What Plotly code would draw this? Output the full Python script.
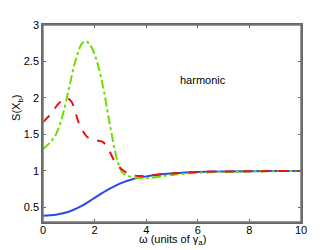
import plotly.graph_objects as go

blue_x = [0, 0.5, 1, 1.5, 2, 2.5, 3, 3.5, 4, 4.5, 5, 6, 7, 8, 9, 10]
blue_y = [0.385, 0.40, 0.44, 0.52, 0.63, 0.74, 0.83, 0.89, 0.925, 0.95, 0.965, 0.985, 0.992, 0.996, 0.998, 1.0]

red_x = [0, 0.3, 0.6, 0.9, 1.1, 1.4, 1.7, 2.0, 2.3, 2.5, 2.8, 3.1, 3.4, 3.7, 4, 5, 6, 8, 10]
red_y = [1.67, 1.78, 1.92, 2.0, 1.95, 1.65, 1.47, 1.42, 1.40, 1.32, 1.12, 1.01, 0.95, 0.93, 0.935, 0.965, 0.985, 0.995, 1.0]

green_x = [0, 0.25, 0.5, 0.75, 1.0, 1.25, 1.5, 1.65, 1.8, 2.0, 2.3, 2.6, 2.9, 3.1, 3.4, 3.7, 4.0, 4.5, 5, 6, 8, 10]
green_y = [1.30, 1.38, 1.50, 1.75, 2.12, 2.50, 2.74, 2.78, 2.74, 2.60, 2.20, 1.62, 1.12, 0.97, 0.92, 0.905, 0.90, 0.92, 0.945, 0.975, 0.993, 1.0]

x_ticks = [0, 2, 4, 6, 8, 10]
y_ticks = [0.5, 1, 1.5, 2, 2.5, 3]
y_tick_labels = ["0.5", "1", "1.5", "2", "2.5", "3"]

font = "Liberation Sans, Arial, sans-serif"

fig = go.Figure()
fig.add_trace(go.Scatter(x=blue_x, y=blue_y, mode="lines", line=dict(color="#2a48f0", width=2, shape="spline")))
fig.add_trace(go.Scatter(x=green_x, y=green_y, mode="lines", line=dict(color="#70dc00", width=2, dash="dashdot", shape="spline")))
fig.add_trace(go.Scatter(x=red_x, y=red_y, mode="lines", line=dict(color="#ee1010", width=2, dash="dash", shape="spline")))

axis_common = dict(showgrid=False, zeroline=False, showline=True, linecolor="#666", linewidth=1.5,
                   mirror="ticks", ticks="inside", ticklen=3, tickcolor="#666", tickwidth=1,
                   tickfont=dict(family=font, size=11, color="black"))
fig.update_xaxes(range=[0, 10], tickvals=x_ticks, ticklabelstandoff=-3, **axis_common)
fig.update_yaxes(range=[0.3, 3], tickvals=y_ticks, ticktext=y_tick_labels, **axis_common)

# plot frame
fig.add_shape(type="rect", xref="paper", yref="paper", x0=0, y0=0, x1=1, y1=1,
              line=dict(color="#777", width=1.5), layer="above")

fig.add_annotation(x=6.2, y=2.24, xref="x", yref="y", text="harmonic", showarrow=False,
                   font=dict(family=font, size=11, color="black"))
fig.add_annotation(x=0.5, y=-0.045, xref="paper", yref="paper", yanchor="top",
                   text="ω (units of γ<sub>a</sub>)",
                   showarrow=False, font=dict(family=font, size=11, color="black"))
fig.add_annotation(x=-0.135, y=0.58, xref="paper", yref="paper", text="S(X<sub>b</sub>)", textangle=-90,
                   showarrow=False, font=dict(family=font, size=11, color="black"))

# the page body adds an 8px offset, so the figure is sized to fit the window
fig.update_layout(width=324, height=242, margin=dict(l=35, r=31, t=11, b=28),
                  paper_bgcolor="white", plot_bgcolor="white", showlegend=False)
fig.write_html("out.html")
